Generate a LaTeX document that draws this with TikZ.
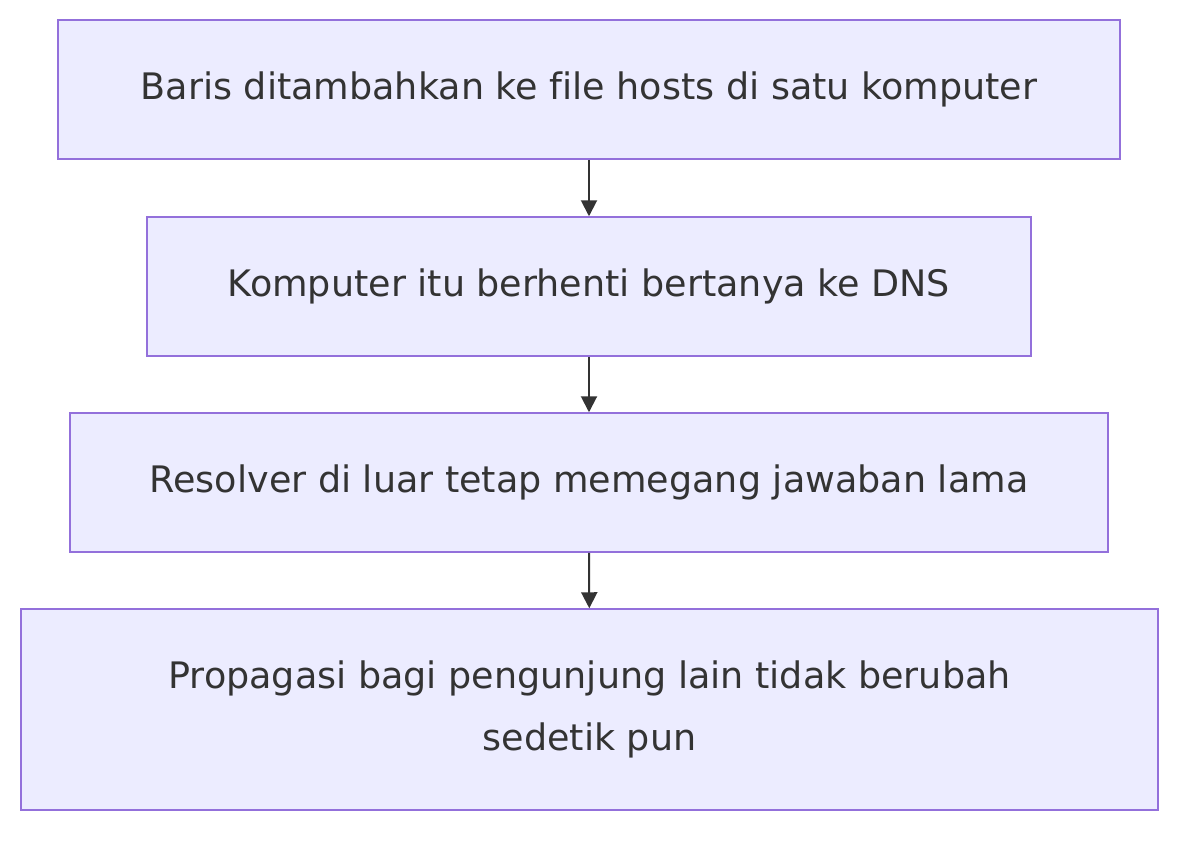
\documentclass[tikz,border=0pt]{standalone}
\usepackage{fontspec}
\setmainfont{DejaVu Sans}[Ligatures={NoCommon}]
\usetikzlibrary{arrows.meta}
\definecolor{boxfill}{HTML}{ECECFF}
\definecolor{boxline}{HTML}{9370DB}
\definecolor{txt}{HTML}{333333}
\begin{document}
\begin{tikzpicture}[x=1pt,y=-1pt,
  box/.style={draw=boxline,fill=boxfill,line width=1.5pt,text=txt,font=\fontsize{36.5}{62}\selectfont,align=center,inner sep=0pt},
  arr/.style={draw=txt,line width=2pt,-{Triangle[length=16pt,width=16pt]}}]
\useasboundingbox (0,0) rectangle (1200,847);
\node[box,minimum width=1062pt,minimum height=139pt] (a) at (589,89.5) {Baris ditambahkan ke file hosts di satu komputer};
\node[box,minimum width=884pt,minimum height=139pt] (b) at (589,286.5) {Komputer itu berhenti bertanya ke DNS};
\node[box,minimum width=1038pt,minimum height=139pt] (c) at (589,482.5) {Resolver di luar tetap memegang jawaban lama};
\node[box,minimum width=1137pt,minimum height=201pt] (d) at (589.5,709.5) {Propagasi bagi pengunjung lain tidak berubah\\sedetik pun};
\draw[arr] (a) -- (b);
\draw[arr] (b) -- (c);
\draw[arr] (c) -- (d);
\end{tikzpicture}
\end{document}
